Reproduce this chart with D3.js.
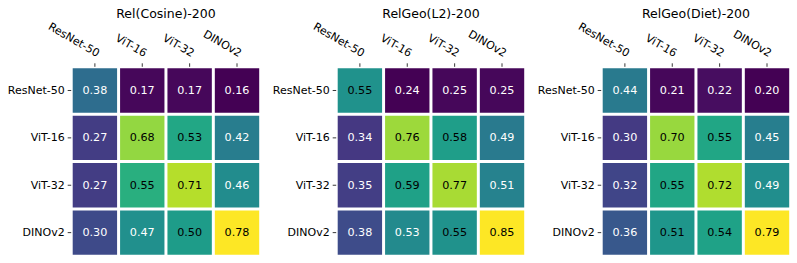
<!DOCTYPE html>
<html>
<head>
<meta charset="utf-8">
<script src="https://cdn.jsdelivr.net/npm/d3@7"></script>
<style>
  html, body { margin: 0; padding: 0; background: #fff; }
  svg { display: block; }
  text { font-family: "DejaVu Sans", sans-serif; }
</style>
</head>
<body>
<svg id="chart" width="797" height="263"></svg>
<script>
// ---- data ----
const models = ["ResNet-50", "ViT-16", "ViT-32", "DINOv2"];
const titles = ["Rel(Cosine)-200", "RelGeo(L2)-200", "RelGeo(Diet)-200"];
const relCosine = [
  [0.38, 0.17, 0.17, 0.16],
  [0.27, 0.68, 0.53, 0.42],
  [0.27, 0.55, 0.71, 0.46],
  [0.30, 0.47, 0.50, 0.78]
];
const relGeoL2 = [
  [0.55, 0.24, 0.25, 0.25],
  [0.34, 0.76, 0.58, 0.49],
  [0.35, 0.59, 0.77, 0.51],
  [0.38, 0.53, 0.55, 0.85]
];
const relGeoDiet = [
  [0.44, 0.21, 0.22, 0.20],
  [0.30, 0.70, 0.55, 0.45],
  [0.32, 0.55, 0.72, 0.49],
  [0.36, 0.51, 0.54, 0.79]
];
const matrices = [relCosine, relGeoL2, relGeoDiet];

(function () {
// ---- layout ----
const svg = d3.select("#chart");
const panelX0 = 71.2, panelStep = 265, size = 189.5, gridTop = 66.8;
const fontSize = 11, annSize = 11.2, tickLen = 3.5, gridW = 3;

matrices.forEach((mat, p) => {
  const x0 = panelX0 + p * panelStep;
  const g = svg.append("g").attr("transform", `translate(${x0},${gridTop})`);
  const x = d3.scaleBand().domain(models).range([0, size]);
  const y = d3.scaleBand().domain(models).range([0, size]);
  const flat = mat.flat();
  const vmin = d3.min(flat), vmax = d3.max(flat);
  const norm = d3.scaleLinear().domain([vmin, vmax]).range([0, 1]);
  const color = v => d3.interpolateViridis(norm(v));

  const cells = [];
  mat.forEach((row, i) => row.forEach((v, j) => cells.push({r: models[i], c: models[j], v})));

  // cells
  g.selectAll("rect.cell").data(cells).enter().append("rect")
    .attr("class", "cell")
    .attr("x", d => x(d.c)).attr("y", d => y(d.r))
    .attr("width", x.bandwidth()).attr("height", y.bandwidth())
    .attr("fill", d => color(d.v));

  // white grid lines at boundaries
  const bounds = d3.range(models.length + 1).map(k => k * x.step());
  g.selectAll("line.vg").data(bounds).enter().append("line")
    .attr("x1", d => d).attr("x2", d => d).attr("y1", -gridW/2).attr("y2", size + gridW/2)
    .attr("stroke", "#fff").attr("stroke-width", gridW);
  g.selectAll("line.hg").data(bounds).enter().append("line")
    .attr("y1", d => d).attr("y2", d => d).attr("x1", -gridW/2).attr("x2", size + gridW/2)
    .attr("stroke", "#fff").attr("stroke-width", gridW);

  // annotations
  g.selectAll("text.ann").data(cells).enter().append("text")
    .attr("class", "ann")
    .attr("x", d => x(d.c) + x.bandwidth()/2)
    .attr("y", d => y(d.r) + y.bandwidth()/2)
    .attr("text-anchor", "middle")
    .attr("dominant-baseline", "central")
    .attr("font-size", annSize)
    .attr("fill", d => norm(d.v) > 0.5 ? "#000" : "#fff")
    .text(d => d.v.toFixed(2));

  // top axis
  const xAxis = g.append("g").call(d3.axisTop(x).tickSize(tickLen).tickPadding(3.8));
  xAxis.select(".domain").remove();
  xAxis.selectAll(".tick line").attr("stroke", "#222").attr("stroke-width", 0.9);
  xAxis.selectAll(".tick text")
    .attr("font-size", fontSize).attr("font-family", "DejaVu Sans").attr("fill", "#000")
    .attr("text-anchor", "end")
    .attr("y", 0).attr("dy", null)
    .attr("transform", `translate(0.6,${-tickLen - 3.8}) rotate(30) translate(0,${-0.24 * fontSize})`);

  // left axis
  const yAxis = g.append("g").call(d3.axisLeft(y).tickSize(tickLen).tickPadding(3));
  yAxis.select(".domain").remove();
  yAxis.selectAll(".tick line").attr("stroke", "#222").attr("stroke-width", 0.9);
  yAxis.selectAll(".tick text")
    .attr("font-size", fontSize).attr("font-family", "DejaVu Sans").attr("fill", "#000");

  // title
  svg.append("text")
    .attr("x", x0 + size / 2).attr("y", 17.5)
    .attr("text-anchor", "middle")
    .attr("font-size", 12.5).attr("fill", "#000")
    .text(titles[p]);
});
})();
</script>
</body>
</html>
